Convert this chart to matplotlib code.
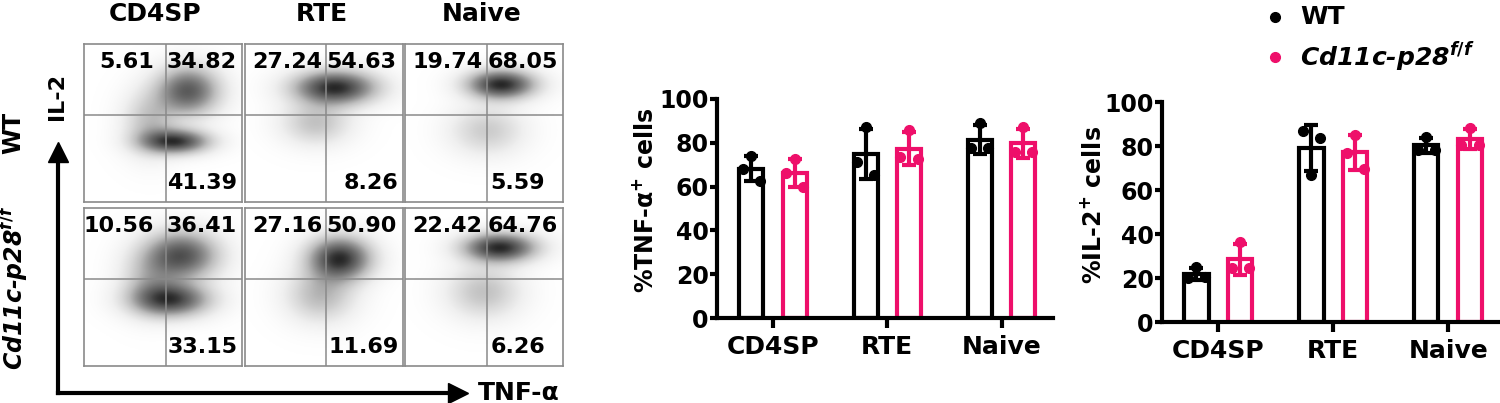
import numpy as np
import matplotlib
matplotlib.use('Agg')
import matplotlib.pyplot as plt
from matplotlib.lines import Line2D

plt.rcParams['font.family'] = ['DejaVu Sans']
plt.rcParams['font.weight'] = 'bold'
plt.rcParams['axes.labelweight'] = 'bold'
plt.rcParams['mathtext.fontset'] = 'custom'
plt.rcParams['mathtext.rm'] = 'DejaVu Sans:bold'
plt.rcParams['mathtext.it'] = 'DejaVu Sans:italic:bold'
plt.rcParams['mathtext.bf'] = 'DejaVu Sans:bold'

# ---- data ----
stages = ['CD4SP', 'RTE', 'Naive']
group_labels = ['WT', 'Cd11c-p28$^{f/f}$']

# flow quadrant percentages: [upper-left, upper-right, lower-right]
flow_wt = [[5.61, 34.82, 41.39], [27.24, 54.63, 8.26], [19.74, 68.05, 5.59]]
flow_ko = [[10.56, 36.41, 33.15], [27.16, 50.90, 11.69], [22.42, 64.76, 6.26]]

# rough cell clouds per panel: (x, y, sx, sy, weight) in panel fraction
clouds_wt = [
    [(0.66, 0.70, 0.13, 0.10, 1.0), (0.58, 0.38, 0.14, 0.05, 1.2), (0.42, 0.50, 0.11, 0.13, 0.4)],
    [(0.57, 0.72, 0.17, 0.07, 1.0), (0.45, 0.50, 0.14, 0.09, 0.3)],
    [(0.61, 0.74, 0.14, 0.06, 1.0), (0.52, 0.45, 0.15, 0.10, 0.25)],
]
clouds_ko = [
    [(0.62, 0.70, 0.15, 0.10, 1.0), (0.55, 0.42, 0.16, 0.07, 1.1), (0.42, 0.55, 0.12, 0.13, 0.35)],
    [(0.60, 0.68, 0.13, 0.09, 1.0), (0.48, 0.45, 0.14, 0.11, 0.35)],
    [(0.60, 0.75, 0.15, 0.06, 1.0), (0.50, 0.47, 0.15, 0.11, 0.3)],
]

# individual mice (3 per group) per stage
tnf_wt = [[74, 68, 62.5], [87.4, 71.4, 65.3], [89, 77.5, 77.5]]
tnf_ko = [[72.5, 66, 60], [86, 73.5, 72.5], [87.4, 76, 76]]
il2_wt = [[25, 19.8, 20.5], [66.9, 86.6, 83.6], [84.3, 78.3, 78.3]]
il2_ko = [[36.5, 24.5, 24.5], [85.1, 76.7, 69.5], [88.4, 80.5, 80.5]]

PINK = '#EE0F6A'
GREY = '#8a8a8a'
W, H = 1500, 403

fig = plt.figure(figsize=(W / 100, H / 100), dpi=100)


def px_axes(left, top, right, bottom):
    return fig.add_axes([left / W, 1 - bottom / H, (right - left) / W, (bottom - top) / H])


# ---- flow plots ----
grid = np.linspace(0, 1, 240)
X, Y = np.meshgrid(grid, grid)
col_left = [84, 245, 405]
row_top = [44, 208]
vline = [0.52, 0.51, 0.52]
ul_right = [0.44, 0.49, 0.49]
lr_pos = [(0.97, 'right'), (0.97, 'right'), (0.54, 'left')]
title_x = [155, 322, 482]
for r, (flows, clouds) in enumerate([(flow_wt, clouds_wt), (flow_ko, clouds_ko)]):
    for c in range(3):
        ax = px_axes(col_left[c], row_top[r], col_left[c] + 158, row_top[r] + 158)
        Z = np.zeros_like(X)
        for cx, cy, sx, sy, w in clouds[c]:
            Z += w * np.exp(-((X - cx) ** 2 / (2 * sx ** 2) + (Y - cy) ** 2 / (2 * sy ** 2)))
        Z = (Z / Z.max()) ** 0.75
        ax.imshow(Z, origin='lower', extent=[0, 1, 0, 1], cmap='Greys', vmin=0, vmax=1.15,
                  aspect='auto', interpolation='bilinear')
        ax.axvline(vline[c], color=GREY, lw=1.1)
        ax.axhline(0.55, color=GREY, lw=1.1)
        ax.set_xlim(0, 1)
        ax.set_ylim(0, 1)
        ax.set_xticks([])
        ax.set_yticks([])
        for s in ax.spines.values():
            s.set_color(GREY)
            s.set_linewidth(1.2)
        ul, ur, lr = flows[c]
        ax.text(ul_right[c], 0.885, f'{ul:.2f}', ha='right', va='center', fontsize=16,
                transform=ax.transAxes)
        ax.text(vline[c] + 0.005, 0.885, f'{ur:.2f}', ha='left', va='center', fontsize=16,
                transform=ax.transAxes, clip_on=False)
        ax.text(lr_pos[c][0], 0.12, f'{lr:.2f}', ha=lr_pos[c][1], va='center', fontsize=16,
                transform=ax.transAxes)
        if r == 0:
            fig.text(title_x[c] / W, 1 - 14 / H, stages[c], ha='center', va='center', fontsize=18)

fig.text(13 / W, 1 - 133 / H, 'WT', rotation=90, ha='center', va='center', fontsize=17)
fig.text(14 / W, 1 - 287 / H, group_labels[1], rotation=90, ha='center', va='center', fontsize=17,
         fontstyle='italic')
fig.text(57 / W, 1 - 97 / H, 'IL-2', rotation=90, ha='center', va='center', fontsize=16)
fig.text(478 / W, 1 - 393 / H, 'TNF-α', ha='left', va='center', fontsize=18)
fig.add_artist(Line2D([58 / W, 58 / W], [1 - 393 / H, 1 - 158 / H], color='black', lw=3))
fig.add_artist(Line2D([58 / W, 452 / W], [1 - 393 / H, 1 - 393 / H], color='black', lw=3))
fig.add_artist(Line2D([58 / W], [1 - 152 / H], marker='^', ms=15, color='black'))
fig.add_artist(Line2D([458 / W], [1 - 393 / H], marker='>', ms=15, color='black'))


# ---- bar charts ----
def bar_chart(ax, wt, ko, ylabel, label_xy):
    x = np.arange(len(stages))
    jitter = [0, -0.075, 0.075]
    for vals, off, col in [(wt, -0.19, 'black'), (ko, 0.19, PINK)]:
        vals = np.array(vals)
        means = vals.mean(axis=1)
        sds = vals.std(axis=1, ddof=1)
        ax.bar(x + off, means, width=0.21, facecolor='white', edgecolor=col, linewidth=3, zorder=2)
        ax.errorbar(x + off, means, yerr=sds, fmt='none', ecolor=col, elinewidth=3, capsize=5,
                    capthick=3, zorder=3)
        for j in range(vals.shape[1]):
            ax.plot(x + off + jitter[j], vals[:, j], 'o', color=col, ms=7, zorder=4, clip_on=False)
    ax.set_ylim(0, 100)
    ax.set_xlim(-0.49, 2.45)
    ax.set_yticks(range(0, 101, 20))
    ax.set_xticks(x)
    ax.set_xticklabels(stages, fontsize=18)
    ax.tick_params(axis='y', labelsize=17, width=3, length=5, pad=1)
    ax.tick_params(axis='x', width=3, length=7, pad=5)
    for s in ['top', 'right']:
        ax.spines[s].set_visible(False)
    for s in ['left', 'bottom']:
        ax.spines[s].set_linewidth(3)
    ax.set_ylabel(ylabel, fontsize=17)
    ax.yaxis.set_label_coords(*label_xy)


ax1 = px_axes(717, 99, 1053, 318)
bar_chart(ax1, tnf_wt, tnf_ko, '%TNF-α$^{+}$ cells', (-0.175, 0.54))
ax2 = px_axes(1162, 102, 1500, 322)
bar_chart(ax2, il2_wt, il2_ko, '%IL-2$^{+}$ cells', (-0.165, 0.53))

# legend
for yy, col in [(17, 'black'), (57, PINK)]:
    fig.add_artist(Line2D([1275 / W], [1 - yy / H], marker='o', ms=7, color=col))
fig.text(1300 / W, 1 - 17 / H, group_labels[0], ha='left', va='center', fontsize=18)
fig.text(1300 / W, 1 - 57 / H, group_labels[1], ha='left', va='center', fontsize=18, fontstyle='italic')

fig.savefig('out.png', dpi=100)
